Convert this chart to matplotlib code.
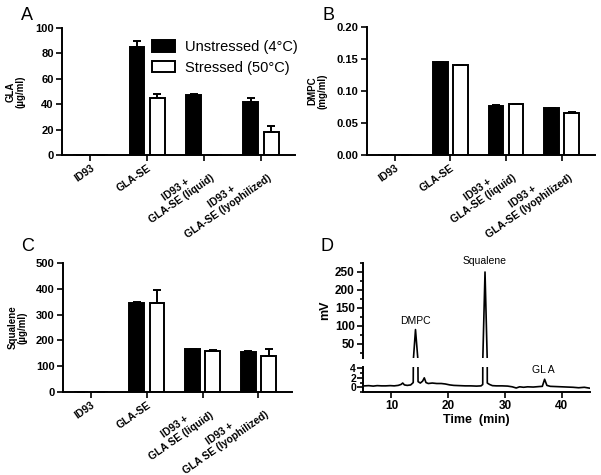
import numpy as np
import matplotlib
matplotlib.use('Agg')
import matplotlib.pyplot as plt
from matplotlib.ticker import MultipleLocator

plt.rcParams['font.family'] = ['Liberation Sans', 'DejaVu Sans']

# datos
grupos_ab = ['ID93', 'GLA-SE', 'ID93 +\nGLA-SE (liquid)', 'ID93 +\nGLA-SE (lyophilized)']
grupos_c = ['ID93', 'GLA-SE', 'ID93 +\nGLA SE (liquid)', 'ID93 +\nGLA SE (lyophilized)']

gla_unst = [0, 85, 47.5, 42]
gla_unst_err = [0, 4.5, 0.3, 3]
gla_str = [0, 44.5, 0, 18]
gla_str_err = [0, 3.5, 0, 5]

dmpc_unst = [0, 0.145, 0.077, 0.073]
dmpc_unst_err = [0, 0.0008, 0.0008, 0.0008]
dmpc_str = [0, 0.140, 0.079, 0.066]
dmpc_str_err = [0, 0.0008, 0.0008, 0.0008]

sq_unst = [0, 345, 165, 155]
sq_unst_err = [0, 2, 2, 2]
sq_str = [0, 345, 160, 140]
sq_str_err = [0, 50, 2, 25]

# cromatograma (tiempo en min, señal en mV)
t_min = [5.3, 6.0, 6.8, 7.5, 8.3, 9.0, 9.8, 10.5, 11.2, 11.7, 12.0, 12.3, 12.8, 13.4,
         13.85, 14.25, 14.7, 15.1, 15.5, 15.8, 16.1, 16.5, 17.2, 18.0, 18.8, 19.5,
         20.3, 21.0, 22.0, 23.0, 24.0, 25.0, 25.8, 26.1, 26.5, 26.9, 27.3, 27.8,
         28.5, 29.5, 30.5, 31.3, 32.0, 32.6, 33.3, 34.0, 35.0, 36.0, 36.6, 37.0,
         37.4, 38.0, 39.0, 40.0, 41.0, 42.0, 43.0, 44.0, 45.0]
mv = [0.3, 0.35, 0.25, 0.35, 0.3, 0.3, 0.35, 0.3, 0.4, 0.6, 0.9, 0.5, 0.4, 0.5,
      1.0, 90, 1.2, 0.9, 1.3, 2.0, 1.0, 0.8, 0.9, 0.8, 0.8, 0.7,
      0.5, 0.4, 0.35, 0.3, 0.3, 0.25, 0.3, 0.6, 250, 0.9, 0.6, 0.35,
      0.3, 0.3, 0.25, 0.1, -0.15, 0.1, 0.0, 0.1, 0.05, 0.15, 0.2, 1.7,
      0.4, 0.2, 0.15, 0.1, 0.05, 0.0, -0.1, 0.0, -0.2]

W, H = 601, 475


def ejes(x0, y0, x1, y1):
    # coordenadas en pixeles de la imagen (y hacia abajo)
    return fig.add_axes([x0 / W, 1 - y1 / H, (x1 - x0) / W, (y1 - y0) / H])


def estilo(ax, ls=8):
    ax.spines['top'].set_visible(False)
    ax.spines['right'].set_visible(False)
    for s in ['left', 'bottom']:
        ax.spines[s].set_linewidth(1.4)
    ax.tick_params(width=1.2, length=4, pad=2, labelsize=ls)
    for lab in ax.get_yticklabels() + ax.get_xticklabels():
        lab.set_fontweight('bold')


def barras(ax, unst, ue, st, se, labels, ylim, ystep, ylabel, fmt=None):
    x = np.arange(len(labels))
    w = 0.26
    d = 0.18
    ax.bar(x - d, unst, w, color='black', edgecolor='black', linewidth=1.4,
           yerr=[np.zeros(len(ue)), ue], error_kw=dict(ecolor='black', elinewidth=1.4, capsize=3, capthick=1.4),
           label='Unstressed (4°C)')
    ax.bar(x + d, st, w, color='white', edgecolor='black', linewidth=1.4,
           yerr=[np.zeros(len(se)), se], error_kw=dict(ecolor='black', elinewidth=1.4, capsize=3, capthick=1.4),
           label='Stressed (50°C)')
    ax.set_xlim(-0.5, 3.6)
    ax.set_ylim(*ylim)
    ax.yaxis.set_major_locator(MultipleLocator(ystep))
    if fmt:
        ax.yaxis.set_major_formatter(fmt)
    ax.set_xticks(x)
    estilo(ax)
    ax.set_xticklabels(labels, rotation=35, ha='right', rotation_mode='anchor',
                       multialignment='center', fontsize=7.5, fontweight='bold')
    ax.set_ylabel(ylabel, fontsize=7, fontweight='bold', linespacing=1.0)


fig = plt.figure(figsize=(W / 100, H / 100), dpi=100)

axA = ejes(62, 28, 295, 155)
barras(axA, gla_unst, gla_unst_err, gla_str, gla_str_err, grupos_ab, (0, 100), 20, 'GLA\n(µg/ml)')
axA.legend(loc='upper left', bbox_to_anchor=(0.385, 0.905), frameon=False, fontsize=10.5,
           handlelength=1.6, handleheight=0.85, borderpad=0, borderaxespad=0, labelspacing=0.45,
           handletextpad=0.7)

axB = ejes(367, 27, 595, 155)
barras(axB, dmpc_unst, dmpc_unst_err, dmpc_str, dmpc_str_err, grupos_ab, (0, 0.2), 0.05, 'DMPC\n(mg/ml)',
       fmt=matplotlib.ticker.FormatStrFormatter('%.2f'))

axC = ejes(63, 263, 292, 392)
barras(axC, sq_unst, sq_unst_err, sq_str, sq_str_err, grupos_c, (0, 500), 100, 'Squalene\n(µg/ml)')

# panel D con eje partido
axD1 = ejes(363, 263, 590, 358)
axD2 = ejes(363, 367, 590, 392)
for ax in (axD1, axD2):
    ax.plot(t_min, mv, color='black', lw=1.2)
    ax.set_xlim(5, 45)
axD1.set_ylim(11, 275)
axD1.yaxis.set_major_locator(MultipleLocator(50))
axD1.yaxis.set_minor_locator(MultipleLocator(25))
axD1.set_xticks([])
axD1.spines['bottom'].set_visible(False)
axD2.set_ylim(-1, 4.3)
axD2.yaxis.set_major_locator(MultipleLocator(2))
axD2.yaxis.set_minor_locator(MultipleLocator(1))
axD2.xaxis.set_major_locator(MultipleLocator(10))
estilo(axD1, 8.5)
estilo(axD2, 8.5)
for ax in (axD1, axD2):
    ax.tick_params(which='minor', width=1.2, length=2.5)
axD2.tick_params(axis='y', labelsize=7.5, pad=1)
axD2.set_xlabel('Time  (min)', fontsize=9, fontweight='bold', labelpad=1)
axD1.set_ylabel('mV', fontsize=9, fontweight='bold')
axD1.yaxis.set_label_coords(-0.14, 0.5)
axD1.text(14.2, 100, 'DMPC', ha='center', va='bottom', fontsize=7.5)
axD1.text(26.5, 268, 'Squalene', ha='center', va='bottom', fontsize=7.5, clip_on=False)
axD2.text(36.8, 2.5, 'GL A', ha='center', va='bottom', fontsize=7.5)

for letra, px, py in [('A', 21, 15), ('B', 322, 15), ('C', 21, 246), ('D', 321, 246)]:
    fig.text(px / W, 1 - py / H, letra, fontsize=13, ha='left', va='center')

# borde derecho de los titulos de eje
for ax, xl in [(axA, -0.155), (axB, -0.175), (axC, -0.155)]:
    ax.yaxis.set_label_coords(xl, 0.5)

fig.savefig('out.png', dpi=100)
